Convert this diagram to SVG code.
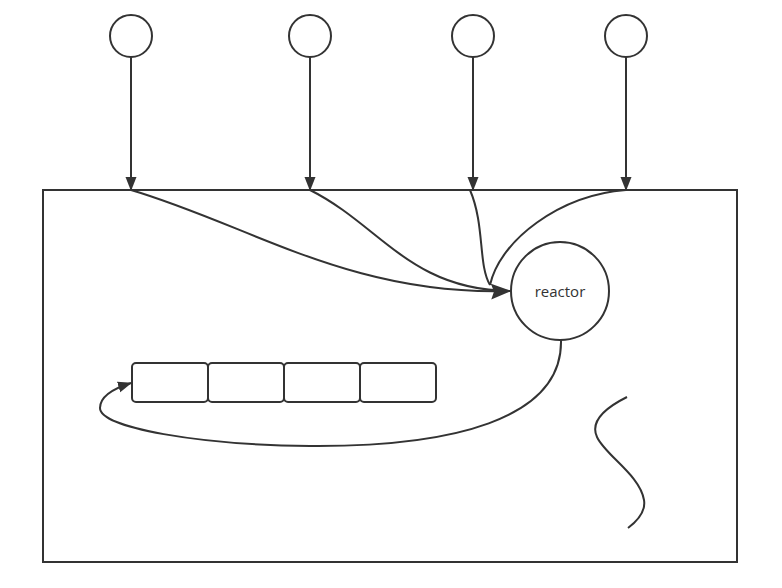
<svg xmlns="http://www.w3.org/2000/svg" width="782" height="588" viewBox="0 0 782 588">
<style>
.s{fill:none;stroke:#333;stroke-width:2}
.n{fill:#fff;stroke:#333;stroke-width:2}
.t{font-family:"Open Sans","Liberation Sans",sans-serif;font-size:15px;fill:#333;text-anchor:middle}
</style>
<defs>
<marker id="ah" markerWidth="14" markerHeight="12" refX="13" refY="6" orient="auto" markerUnits="userSpaceOnUse">
<path d="M0,0.5 L14,6 L0,11.5 Z" fill="#333"/>
</marker>
<marker id="ab" markerWidth="20" markerHeight="16" refX="19" refY="8" orient="auto" markerUnits="userSpaceOnUse">
<path d="M0,0 L20,8 L0,16 L3,8 Z" fill="#333"/>
</marker>
</defs>
<rect id="container" x="43" y="190" width="694" height="372" fill="#fff" stroke="#333" stroke-width="2"/>
<g id="client1"><circle class="n" cx="131" cy="36" r="21"/></g>
<g id="client2"><circle class="n" cx="310" cy="36" r="21"/></g>
<g id="client3"><circle class="n" cx="473" cy="36" r="21"/></g>
<g id="client4"><circle class="n" cx="626" cy="36" r="21"/></g>
<g id="reactor"><circle class="n" cx="560" cy="291" r="49"/><text class="t" x="560" y="297">reactor</text></g>
<g id="queue">
<rect class="n" x="132" y="363" width="76" height="39" rx="4"/>
<rect class="n" x="208" y="363" width="76" height="39" rx="4"/>
<rect class="n" x="284" y="363" width="76" height="39" rx="4"/>
<rect class="n" x="360" y="363" width="76" height="39" rx="4"/>
</g>
<g id="connectors">
<path class="s" d="M131,57 L131,190" marker-end="url(#ah)"/>
<path class="s" d="M310,57 L310,190" marker-end="url(#ah)"/>
<path class="s" d="M473,57 L473,190" marker-end="url(#ah)"/>
<path class="s" d="M626,57 L626,190" marker-end="url(#ah)"/>
<path class="s" d="M131,190 C250,225 350,296 510,291" marker-end="url(#ab)"/>
<path class="s" d="M310,190 C380,225 410,290 510,291"/>
<path class="s" d="M470,190 C485,225 478,265 490,285"/>
<path class="s" d="M626,190 C560,195 500,240 490,285"/>
<path class="s" d="M561,340 C563,420 450,447 310,446 C200,445 100,428 100,408 C100,396 115,388 131,383" marker-end="url(#ah)"/>
<path class="s" d="M627,397 C605,408 590,422 597,437 C605,455 640,475 644,500 C646,512 636,522 628,528"/>
</g>
</svg>
